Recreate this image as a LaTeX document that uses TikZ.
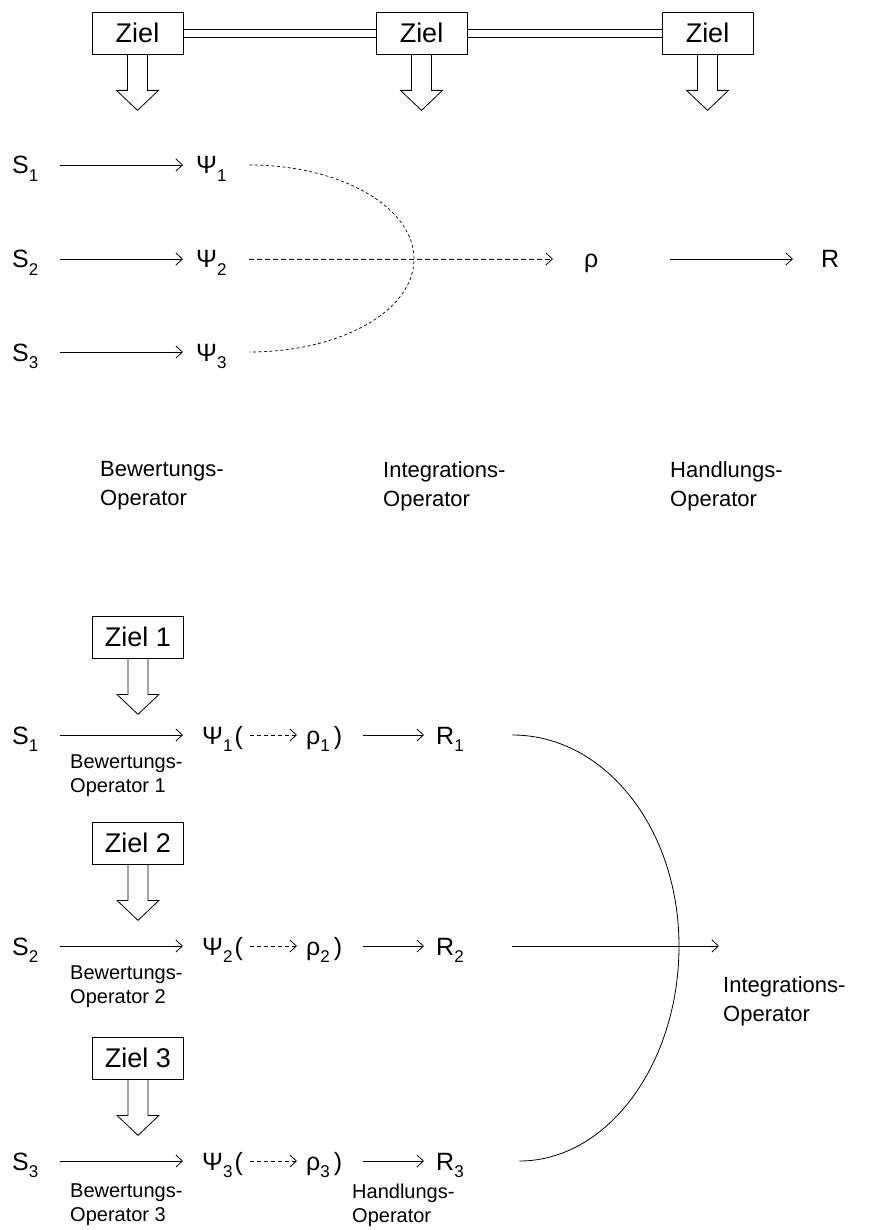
\documentclass[tikz,border=0pt]{standalone}
\usepackage{fontspec}
\setmainfont{Liberation Sans}
\usetikzlibrary{arrows.meta,calc}
\newcommand\sbs[1]{\raisebox{-0.3em}{\fontsize{17}{17}\selectfont #1}}
\tikzset{
  ln/.style={line width=0.8pt},
  arr/.style={ln,-{Straight Barb[length=6.5pt,width=12pt,line width=0.8pt]}},
  darr/.style={ln,dash pattern=on 5pt off 3pt,-{Straight Barb[length=6.5pt,width=12pt,line width=0.8pt]}},
  dcurve/.style={line width=0.7pt,dash pattern=on 3pt off 2.5pt},
  zielbox/.style={draw,ln,minimum width=91pt,minimum height=42pt,inner sep=0pt,font=\fontsize{27}{30}\selectfont},
  rowtxt/.style={inner sep=0pt,anchor=west,text height=18pt,text depth=0pt,align=left,font=\fontsize{25}{28}\selectfont},
  toplbl/.style={inner sep=0pt,anchor=north west,align=left,font=\fontsize{22}{29}\selectfont},
  botlbl/.style={inner sep=0pt,anchor=north west,align=left,font=\fontsize{20}{24}\selectfont}
}
\newcommand\zielpfeil[1]{\draw[ln] (#1.south) ++(-10,0) -- ++(0,36) -- ++(-11,0) -- ++(21,20) -- ++(21,-20) -- ++(-11,0) -- ++(0,-36);}
\begin{document}
\begin{tikzpicture}[x=1pt,y=-1pt]
\useasboundingbox (0,0) rectangle (872,1230);
% ---------- top part ----------
\node[zielbox] (za) at (137.5,33) {Ziel};
\node[zielbox] (zb) at (421.5,33) {Ziel};
\node[zielbox] (zc) at (707.5,33) {Ziel};
\draw[ln] ($(za.east)+(0,-4)$) -- ($(zb.west)+(0,-4)$);
\draw[ln] ($(za.east)+(0,4)$) -- ($(zb.west)+(0,4)$);
\draw[ln] ($(zb.east)+(0,-4)$) -- ($(zc.west)+(0,-4)$);
\draw[ln] ($(zb.east)+(0,4)$) -- ($(zc.west)+(0,4)$);
\zielpfeil{za}
\zielpfeil{zb}
\zielpfeil{zc}

\node[rowtxt,text width=48pt] (s1) at (12,165) {S\sbs{1}};
\node[rowtxt,text width=48pt] (s2) at (12,259) {S\sbs{2}};
\node[rowtxt,text width=48pt] (s3) at (12,352) {S\sbs{3}};
\node[rowtxt,text width=40pt] (p1) at (196,165) {Ψ\sbs{1}};
\node[rowtxt,text width=40pt] (p2) at (196,259) {Ψ\sbs{2}};
\node[rowtxt,text width=40pt] (p3) at (196,352) {Ψ\sbs{3}};
\node[rowtxt,text width=86pt] (rho) at (584,259) {ρ};
\node[rowtxt] (R) at (821,259) {R};
\draw[arr,shorten >=13pt] (s1) -- (p1);
\draw[arr,shorten >=13pt] (s2) -- (p2);
\draw[arr,shorten >=13pt] (s3) -- (p3);
\draw[darr,shorten <=13pt,shorten >=31pt] (p2) -- (rho);
\draw[arr,shorten >=28pt] (rho) -- (R);
\coordinate (ell) at (414,259);
\draw[dcurve] ($(p1.east)+(13,0)$) .. controls +(91,0) and +(0,-52) .. (ell)
   .. controls +(0,52) and +(91,0) .. ($(p3.east)+(13,0)$);

\node[toplbl] (lb1) at (100,461) {Bewertungs-\\Operator};
\node[toplbl] (lb2) at (383,461) {Integrations-\\Operator};
\node[toplbl] (lb3) at (670,461) {Handlungs-\\Operator};

% ---------- bottom part ----------
\node[zielbox] (z1) at (138,637) {Ziel 1};
\node[zielbox] (z2) at (138,843) {Ziel 2};
\node[zielbox] (z3) at (138,1058) {Ziel 3};
\zielpfeil{z1}
\zielpfeil{z2}
\zielpfeil{z3}

\foreach \i/\y in {1/735,2/946,3/1161}{
  \node[rowtxt,text width=48pt] (t\i) at (12,\y) {S\sbs{\i}};
  \node[rowtxt,text width=44pt] (q\i) at (202,\y) {Ψ\sbs{\i}\kern2pt(};
  \node[rowtxt,text width=52pt] (r\i) at (306,\y) {ρ\sbs{\i}\kern4pt)};
  \node[rowtxt,text width=76pt] (h\i) at (436,\y) {R\sbs{\i}};
  \draw[arr,shorten >=19pt] (t\i) -- (q\i);
  \draw[darr,dash pattern=on 4pt off 3pt,shorten <=4pt,shorten >=9pt] (q\i) -- (r\i);
  \draw[arr,shorten <=5pt,shorten >=12pt] (r\i) -- (h\i);
}
\node[botlbl] (b1) at (70,755) {Bewertungs-\\Operator 1};
\node[botlbl] (b2) at (70,966) {Bewertungs-\\Operator 2};
\node[botlbl] (b3) at (70,1184) {Bewertungs-\\Operator 3};
\node[botlbl] (hop) at (352,1184) {Handlungs-\\Operator};

\coordinate (arcR) at (679,946);
\draw[ln] (h1.east) .. controls +(92,0) and +(0,-118) .. (arcR)
   .. controls +(0,118) and +(88,0) .. ($(h3.east)+(7,0)$);
\coordinate (iend) at (719,946);
\draw[arr] (h2.east) -- (iend);
\node[toplbl] (iop) at (723,976) {Integrations-\\Operator};
\end{tikzpicture}
\end{document}
